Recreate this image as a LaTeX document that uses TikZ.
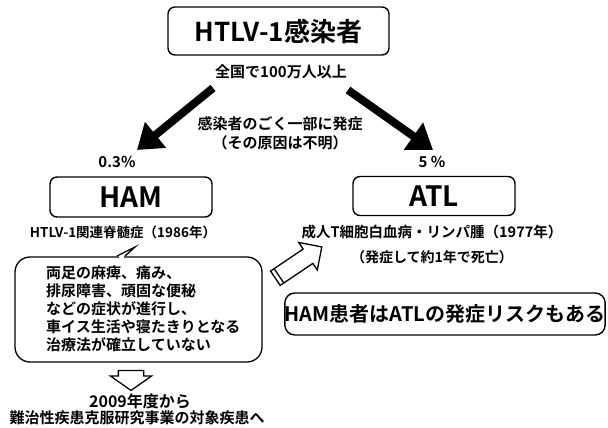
\documentclass[tikz,border=0pt]{standalone}
\usepackage{fontspec}
\setmainfont{Noto Sans CJK JP}[BoldFont={* Bold}]
\usetikzlibrary{arrows.meta,shapes.arrows,calc}
\begin{document}
\begin{tikzpicture}[x=1pt,y=-1pt,
  box/.style={draw, line width=1.4pt, rounded corners=7pt, inner sep=0pt},
  lbl/.style={font=\bfseries\fontsize{15}{18}\selectfont, inner sep=0pt},
  small/.style={font=\bfseries\fontsize{13.5}{16}\selectfont, inner sep=0pt},
  fatarrow/.style={line width=8pt, -{Triangle[length=24pt,width=32pt]}},
  hollow/.style={draw, line width=1.3pt, fill=white, shape=single arrow,
    single arrow head indent=0pt, inner sep=0pt}]
\useasboundingbox (0,0) rectangle (608,428);

% top box
\node[box, minimum width=221pt, minimum height=48pt,
  font=\bfseries\fontsize{26}{30}\selectfont] (top) at (278.5,31) {HTLV-1感染者};
\node[lbl] (count) at (281,72) {全国で100万人以上};

% thick arrows
\coordinate (la0) at (213,88);
\coordinate (la1) at (137,150);
\coordinate (ra0) at (348,90);
\coordinate (ra1) at (433,150);
\draw[fatarrow] (la0) -- (la1);
\draw[fatarrow] (ra0) -- (ra1);

\node[lbl] (mid1) at (280,124) {感染者のごく一部に発症};
\node[lbl] (mid2) at (280,143) {（その原因は不明）};

\node[lbl] (pl) at (117,162) {0.3\%};
\node[lbl] (pr) at (432,162) {5 \%};

% disease boxes
\node[box, minimum width=162pt, minimum height=40pt,
  font=\bfseries\fontsize{28}{32}\selectfont] (ham) at (131,197) {HAM};
\node[box, minimum width=162pt, minimum height=39pt,
  font=\bfseries\fontsize{28}{32}\selectfont] (atl) at (434,196) {ATL};

\node[small] (hamsub) at (123,232) {HTLV-1関連脊髄症（1986年）};
\node[lbl, font=\bfseries\fontsize{14.5}{16}\selectfont] (atlsub) at (432,232) {成人T細胞白血病・リンパ腫（1977年）};
\node[lbl, font=\bfseries\fontsize{14}{16}\selectfont] (atlsub2) at (432,257) {（発症して約1年で死亡）};

% callout
\node[draw, line width=1.3pt, rounded corners=15pt, minimum width=247pt,
  minimum height=105pt, inner sep=0pt] (callout) at (138.5,309.5) {};
\coordinate (j0) at (117,256);
\coordinate (j1) at (135,247);
\coordinate (j2) at (125,256);
\fill[white] (118.5,254) rectangle (123.5,258.5);
\draw[line width=1.3pt, line join=miter] (j0) -- (j1) -- (j2);
\node[anchor=west, align=left, inner sep=0pt,
  font=\bfseries\fontsize{15}{18}\selectfont] (ctext) at (46,309)
  {両足の麻痺、痛み、\\排尿障害、頑固な便秘\\などの症状が進行し、\\車イス生活や寝たきりとなる\\治療法が確立していない};

% hollow arrow up-right
\node[hollow, rotate=34, minimum height=56pt,
  single arrow head extend=8pt] (harrow) at (295,265) {\rule{0pt}{16pt}};
\draw[line width=1.3pt] ($(harrow.before tail)!5pt!(harrow.after head)$) --
  ($(harrow.after tail)!5pt!(harrow.before head)$);

% risk box
\node[box, rounded corners=10pt, minimum width=320pt, minimum height=42pt,
  font=\bfseries\fontsize{20}{24}\selectfont] (risk) at (445,314) {HAM患者はATLの発症リスクもある};

% down arrow
\node[hollow, rotate=-90, minimum height=20pt,
  single arrow head extend=8pt, single arrow tip angle=110] (darrow) at (131,376) {\rule{0pt}{24pt}};

\node[font=\bfseries\fontsize{16}{18}\selectfont, inner sep=0pt] (y2009) at (140,401) {2009年度から};
\node[lbl] (target) at (137,418) {難治性疾患克服研究事業の対象疾患へ};
\end{tikzpicture}
\end{document}
